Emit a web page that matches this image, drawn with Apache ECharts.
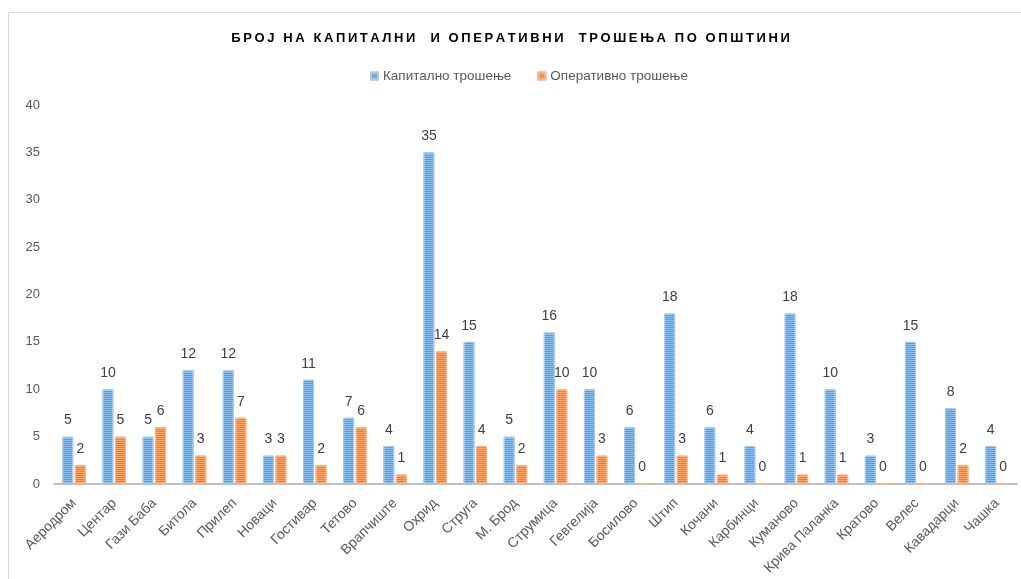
<!DOCTYPE html>
<html>
<head>
<meta charset="utf-8">
<script src="https://cdn.jsdelivr.net/npm/echarts@6/dist/echarts.min.js"></script>
<style>
  html, body { margin: 0; padding: 0; background: #fff; }
  #main { width: 1021px; height: 579px; }
</style>
</head>
<body>
<div id="main"></div>
<script>
// податоци
const titleText = 'БРОЈ НА КАПИТАЛНИ  И ОПЕРАТИВНИ  ТРОШЕЊА ПО ОПШТИНИ'
const seriesNames = ['Капитално трошење', 'Оперативно трошење']
const municipalities = ['Аеродром', 'Центар', 'Гази Баба', 'Битола', 'Прилеп', 'Новаци', 'Гостивар', 'Тетово',
  'Врапчиште', 'Охрид', 'Струга', 'М. Брод', 'Струмица', 'Гевгелија', 'Босилово', 'Штип', 'Кочани', 'Карбинци',
  'Куманово', 'Крива Паланка', 'Кратово', 'Велес', 'Кавадарци', 'Чашка']
const capitalData = [5, 10, 5, 12, 12, 3, 11, 7, 4, 35, 15, 5, 16, 10, 6, 18, 6, 4, 18, 10, 3, 15, 8, 4]
const operativeData = [2, 5, 6, 3, 7, 3, 2, 6, 1, 14, 4, 2, 10, 3, 0, 3, 1, 0, 1, 1, 0, 0, 2, 0]
const yTicks = [0, 5, 10, 15, 20, 25, 30, 35, 40]

const font = 'Liberation Sans'

// хоризонтални линии како во Excel
const stripes = {
  symbol: 'rect',
  symbolSize: 1,
  color: 'rgba(255,255,255,0.35)',
  dashArrayX: [1, 0],
  dashArrayY: [1, 1]
}

const chart = echarts.init(document.getElementById('main'))

const option = {
  animation: false,
  textStyle: { fontFamily: font },
  graphic: [
    {
      type: 'rect',
      shape: { x: 8.5, y: 12.5, width: 1040, height: 600 },
      style: { fill: 'none', stroke: '#d9d9d9', lineWidth: 1 },
      silent: true
    }
  ],
  title: {
    text: titleText.split('').join('\u2009'),
    left: 'center',
    top: 27,
    textStyle: {
      fontFamily: font,
      fontSize: 13,
      fontWeight: 'bold',
      color: '#000'
    }
  },
  legend: {
    top: 64,
    left: 365,
    icon: 'rect',
    itemWidth: 7,
    itemHeight: 7,
    itemGap: 26,
    textStyle: { fontFamily: font, fontSize: 13.5, color: '#595959' },
    data: seriesNames
  },
  grid: {
    left: 54,
    right: 4,
    top: 105,
    bottom: 95,
    containLabel: false
  },
  xAxis: {
    type: 'category',
    data: municipalities,
    axisTick: { show: false },
    axisLine: { lineStyle: { color: '#bfbfbf', width: 2 } },
    axisLabel: {
      interval: 0,
      rotate: 45,
      margin: 17,
      fontFamily: font,
      fontSize: 14,
      color: '#595959'
    }
  },
  yAxis: {
    type: 'value',
    min: yTicks[0],
    max: yTicks[yTicks.length - 1],
    interval: 5,
    splitLine: { show: false },
    axisLine: { show: false },
    axisTick: { show: false },
    axisLabel: { fontFamily: font, fontSize: 13, color: '#595959', margin: 14 }
  },
  series: [
    {
      name: seriesNames[0],
      type: 'bar',
      barWidth: 11,
      barGap: '14%',
      data: capitalData,
      itemStyle: {
        color: '#5b9bd5',
        borderColor: '#a9c9e9',
        borderWidth: 1,
        decal: stripes
      },
      label: { show: true, position: 'top', distance: 9, fontSize: 14, color: '#404040', fontFamily: font }
    },
    {
      name: seriesNames[1],
      type: 'bar',
      barWidth: 11,
      data: operativeData,
      itemStyle: {
        color: '#ed7d31',
        borderColor: '#f5b48a',
        borderWidth: 1,
        decal: stripes
      },
      label: { show: true, position: 'top', distance: 9, fontSize: 14, color: '#404040', fontFamily: font }
    }
  ]
}

chart.setOption(option)
</script>
</body>
</html>
